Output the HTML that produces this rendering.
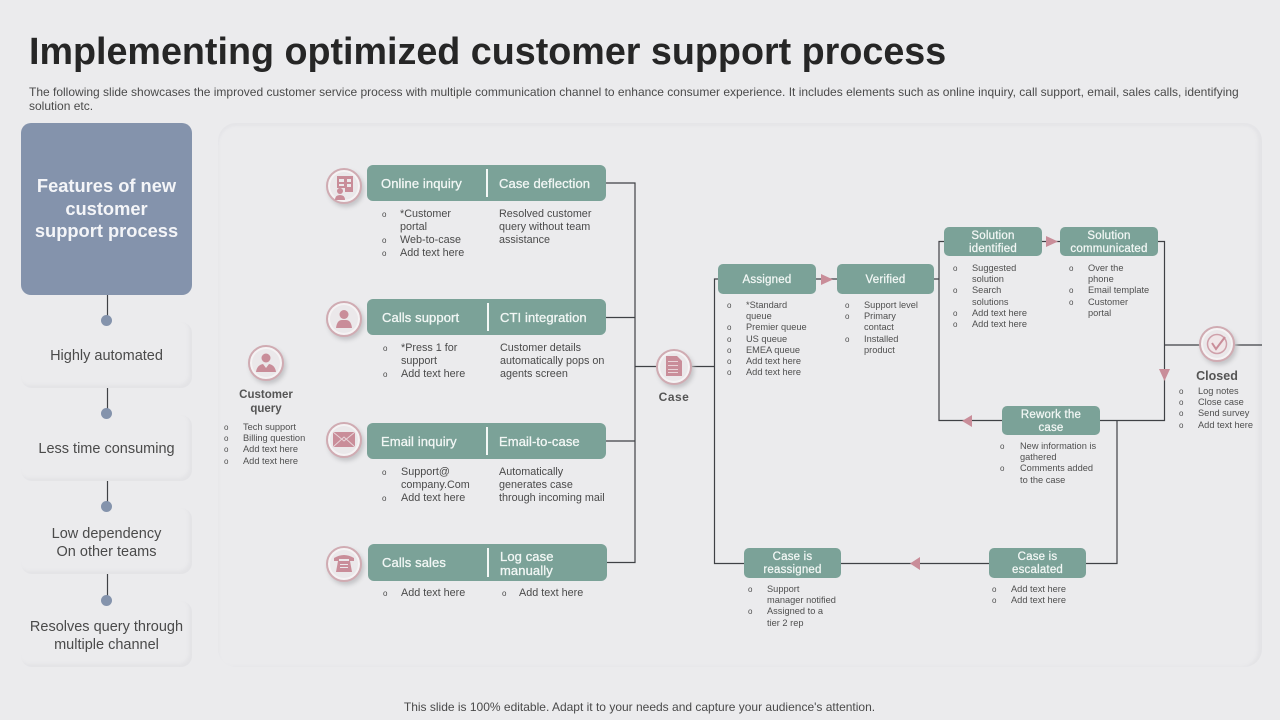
<!DOCTYPE html>
<html><head><meta charset="utf-8"><style>
html,body{margin:0;padding:0}
body{width:1280px;height:720px;background:#ebebed;position:relative;overflow:hidden;font-family:"Liberation Sans",sans-serif;color:#444}
div{position:absolute;box-sizing:border-box}
.t{white-space:nowrap}
.side{left:21px;width:171px;height:66px;border-radius:11px;background:#ebebed;box-shadow:inset -3px -3px 3px #e3e3e6;text-align:center;font-size:14.500px;line-height:18px;color:#4a4a4a;display:flex;align-items:center;justify-content:center;padding-top:2px}
.dot{width:11px;height:11px;border-radius:50%;background:#8493ac;left:101px}
.g{background:#7ba298;border-radius:6px}
.h{position:absolute;white-space:nowrap;color:#f2f7f5;font-size:13px;line-height:14px;letter-spacing:.1px;-webkit-text-stroke:.3px #f2f7f5}
.c{display:flex;align-items:center;justify-content:center;text-align:center;font-size:11.500px;line-height:13px;letter-spacing:.2px;-webkit-text-stroke:.25px #f2f7f5;color:#f2f7f5;background:#7ba298;border-radius:5px;padding-top:2px}
.s{width:1.500px;background:#f4f8f6;top:4px;bottom:4px}
.m{font-size:10.800px;line-height:13px;color:#4a4a4a;white-space:nowrap}
.n{font-size:9.250px;line-height:11.200px;color:#4f4f4f;white-space:nowrap}
.b{font-size:8px}
.ic{width:36px;height:36px;border-radius:50%;background:#ebe8ea;border:2px solid #d0abb2;box-shadow:inset 0 0 0 2px #f5f3f4,2px 3px 4px #c4c4c7}
</style></head><body>
<div class="t" style="left:29px;top:28px;font-size:37.700px;line-height:46px;font-weight:bold;color:#262626">Implementing optimized customer support process</div>
<div style="left:29px;top:85px;width:1225px;font-size:12px;line-height:14px;color:#4a4a4a">The following slide showcases the improved customer service process with multiple communication channel to enhance consumer experience. It includes elements such as online inquiry, call support, email, sales calls, identifying solution etc.</div>

<div style="left:21px;top:123px;width:171px;height:172px;border-radius:10px;background:#8493ac"></div>
<div style="left:21px;top:175px;width:171px;text-align:center;color:#f4f5f8;font-size:18.300px;line-height:22.500px;font-weight:bold">Features of new<br>customer<br>support process</div>

<div style="left:218px;top:123px;width:1044px;height:544px;border-radius:18px;background:#ebebed;box-shadow:inset 1px 3px 2px #e5e5e8,inset -4px 0 3px #e3e3e6"></div>

<div class="side" style="top:322px">Highly automated</div>
<div class="side" style="top:415px">Less time consuming</div>
<div class="side" style="top:508px;padding-top:4px">Low dependency<br>On other teams</div>
<div class="side" style="top:601px;padding-top:4px">Resolves query through<br>multiple channel</div>

<svg width="1280" height="720" style="position:absolute;left:0;top:0" fill="none" stroke="#3f4145" stroke-width="1.200">
<path d="M107.500 295V320M107.500 388V413M107.500 481V506M107.500 574V600"/>
<path d="M606 183H635V562.500H607M606 317.500H635M606 441H635M635 366.500H714"/>
<path d="M718 279H714.500V563.500H744M816 279H837M934 279H939M944 241.500H939V420.500H1002M1042 241.500H1060M1158 241.500H1164.500V420.500H1100M1164.500 345H1262M1117 420.500V563.500H1086M989 563.500H841"/>
<g fill="#c98d99" stroke="none">
<path d="M821 274L833 279.500L821 285Z"/>
<path d="M1046 236L1058 241.500L1046 247Z"/>
<path d="M1159 369H1170L1164.500 381Z"/>
<path d="M972 415V427L962 421Z"/>
<path d="M920 557V570L910 563.500Z"/>
</g>
</svg>
<div class="dot" style="top:315px"></div>
<div class="dot" style="top:408px"></div>
<div class="dot" style="top:501px"></div>
<div class="dot" style="top:595px"></div>

<!-- icons -->
<div class="ic" style="left:248px;top:345px"></div>
<div class="ic" style="left:326px;top:168px"></div>
<div class="ic" style="left:326px;top:301px"></div>
<div class="ic" style="left:326px;top:422px"></div>
<div class="ic" style="left:326px;top:546px"></div>
<div class="ic" style="left:656px;top:349px"></div>
<div class="ic" style="left:1199px;top:326px"></div>
<svg width="1280" height="720" style="position:absolute;left:0;top:0" fill="#c98d99">
<circle cx="266" cy="358" r="4.500"/><path d="M256 372Q257 365 263 364L266 368L269 364Q275 365 276 372Z"/>
<path d="M337 176H353V192H345V188H337Z"/><circle cx="340" cy="191" r="3"/><path d="M335 200Q335 195 340 195Q345 195 345 200Z"/><g fill="#ebe8ea"><rect x="339" y="179" width="5" height="3"/><rect x="347" y="179" width="4" height="3"/><rect x="339" y="184" width="5" height="2"/><rect x="347" y="184" width="4" height="3"/></g>
<circle cx="344" cy="314.500" r="4.500"/><path d="M336 328Q337 320 342 320H346Q351 320 352 328Z"/>
<path d="M333 432H355V447H333Z"/><path d="M333 432L344 441L355 432M333 447L344 437L355 447" fill="none" stroke="#e8d6da" stroke-width="1"/>
<path d="M334 558Q344 552 354 558V561H349V559H339V561H334Z"/><path d="M338 561H350L352 572H336Z"/><g fill="#ebe8ea"><rect x="340" y="564" width="8" height="1"/><rect x="340" y="567" width="8" height="1"/></g>
<path d="M666 356H677L682 361V376H666Z"/><g fill="#e9d4d8"><rect x="668" y="361" width="10" height="1"/><rect x="668" y="365" width="10" height="1"/><rect x="668" y="369" width="10" height="1"/><rect x="668" y="372" width="10" height="1"/></g>
<circle cx="1217" cy="344" r="9.500" fill="#f0e6e8" stroke="#cfa0aa" stroke-width="1.500"/><path d="M1212 343L1216 349L1225 337" fill="none" stroke="#c98d99" stroke-width="2"/>
</svg>

<!-- left query -->
<div class="t" style="left:216px;top:388px;width:100px;text-align:center;font-size:11.500px;line-height:14px;font-weight:bold;color:#555">Customer<br>query</div>
<div class="n b" style="left:224px;top:422px">o<br>o<br>o<br>o</div>
<div class="n" style="left:243px;top:422px">Tech support<br>Billing question<br>Add text here<br>Add text here</div>

<!-- rows -->
<div class="g" style="left:367px;top:165px;width:239px;height:36px"><div class="s" style="left:119px"></div><div class="h" style="left:14px;top:12px">Online inquiry</div><div class="h" style="left:132px;top:12px">Case deflection</div></div>
<div class="m b" style="left:382px;top:208px">o<br><br>o<br>o</div>
<div class="m" style="left:400px;top:208px">*Customer<br>portal<br>Web-to-case<br>Add text here</div>
<div class="m" style="left:499px;top:208px">Resolved customer<br>query without team<br>assistance</div>

<div class="g" style="left:367px;top:299px;width:239px;height:36px"><div class="s" style="left:120px"></div><div class="h" style="left:15px;top:12px">Calls support</div><div class="h" style="left:133px;top:12px">CTI integration</div></div>
<div class="m b" style="left:383px;top:342px">o<br><br>o</div>
<div class="m" style="left:401px;top:342px">*Press 1 for<br>support<br>Add text here</div>
<div class="m" style="left:500px;top:342px">Customer details<br>automatically pops on<br>agents screen</div>

<div class="g" style="left:367px;top:423px;width:239px;height:36px"><div class="s" style="left:119px"></div><div class="h" style="left:14px;top:12px">Email inquiry</div><div class="h" style="left:132px;top:12px">Email-to-case</div></div>
<div class="m b" style="left:382px;top:466px">o<br><br>o</div>
<div class="m" style="left:401px;top:466px">Support@<br>company.Com<br>Add text here</div>
<div class="m" style="left:499px;top:466px">Automatically<br>generates case<br>through incoming mail</div>

<div class="g" style="left:368px;top:544px;width:239px;height:37px"><div class="s" style="left:119px"></div><div class="h" style="left:14px;top:12px">Calls sales</div><div class="h" style="left:132px;top:6px">Log case<br>manually</div></div>
<div class="m b" style="left:383px;top:587px">o</div>
<div class="m" style="left:401px;top:587px">Add text here</div>
<div class="m b" style="left:502px;top:587px">o</div>
<div class="m" style="left:519px;top:587px">Add text here</div>

<!-- Case -->
<div class="t" style="left:624px;top:390px;width:100px;text-align:center;font-size:12px;line-height:15px;font-weight:bold;color:#555;letter-spacing:.5px">Case</div>

<div class="c" style="left:718px;top:264px;width:98px;height:30px">Assigned</div>
<div class="n b" style="left:727px;top:300px">o<br><br>o<br>o<br>o<br>o<br>o</div>
<div class="n" style="left:746px;top:300px">*Standard<br>queue<br>Premier queue<br>US queue<br>EMEA queue<br>Add text here<br>Add text here</div>

<div class="c" style="left:837px;top:264px;width:97px;height:30px">Verified</div>
<div class="n b" style="left:845px;top:300px">o<br>o<br><br>o</div>
<div class="n" style="left:864px;top:300px">Support level<br>Primary<br>contact<br>Installed<br>product</div>

<div class="c" style="left:944px;top:227px;width:98px;height:29px">Solution<br>identified</div>
<div class="n b" style="left:953px;top:263px">o<br><br>o<br><br>o<br>o</div>
<div class="n" style="left:972px;top:263px">Suggested<br>solution<br>Search<br>solutions<br>Add text here<br>Add text here</div>

<div class="c" style="left:1060px;top:227px;width:98px;height:29px">Solution<br>communicated</div>
<div class="n b" style="left:1069px;top:263px">o<br><br>o<br>o</div>
<div class="n" style="left:1088px;top:263px">Over the<br>phone<br>Email template<br>Customer<br>portal</div>

<div class="t" style="left:1167px;top:369px;width:100px;text-align:center;font-size:12.500px;line-height:15px;font-weight:bold;color:#555">Closed</div>
<div class="n b" style="left:1179px;top:386px">o<br>o<br>o<br>o</div>
<div class="n" style="left:1198px;top:386px">Log notes<br>Close case<br>Send survey<br>Add text here</div>

<div class="c" style="left:1002px;top:406px;width:98px;height:29px">Rework the<br>case</div>
<div class="n b" style="left:1000px;top:441px">o<br><br>o</div>
<div class="n" style="left:1020px;top:441px">New information is<br>gathered<br>Comments added<br>to the case</div>

<div class="c" style="left:744px;top:548px;width:97px;height:30px">Case is<br>reassigned</div>
<div class="n b" style="left:748px;top:584px">o<br><br>o</div>
<div class="n" style="left:767px;top:584px">Support<br>manager notified<br>Assigned to a<br>tier 2 rep</div>

<div class="c" style="left:989px;top:548px;width:97px;height:30px">Case is<br>escalated</div>
<div class="n b" style="left:992px;top:584px">o<br>o</div>
<div class="n" style="left:1011px;top:584px">Add text here<br>Add text here</div>

<div class="t" style="left:0;top:700px;width:1280px;text-align:center;font-size:12px;line-height:15px;color:#4a4a4a;padding-right:1px">This slide is 100% editable. Adapt it to your needs and capture your audience's attention.</div>
</body></html>
